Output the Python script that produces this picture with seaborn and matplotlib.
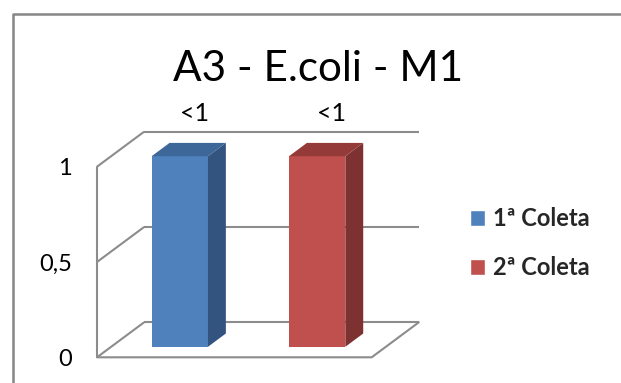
import matplotlib
matplotlib.use("Agg")
import matplotlib.pyplot as plt
import matplotlib.transforms as mtransforms
from matplotlib.patches import Polygon
from matplotlib.lines import Line2D
import seaborn as sns
import pandas as pd

# Data
coletas = ["1ª Coleta", "2ª Coleta"]
valores = [1, 1]
rotulos = ["<1", "<1"]
y_ticks = [0, 0.5, 1]
y_tick_labels = ["0", "0,5", "1"]
titulo = "A3 - E.coli - M1"

# Colours: front face, side face, top face
face_cores = ["#4F81BD", "#C0504D"]
lado_cores = ["#33547F", "#7D3130"]
topo_cores = ["#3D6699", "#943B39"]
grade_cor = "#8C8C8C"

W, H, DPI = 621, 383, 100
sns.set_theme(style="white")
plt.rcParams["font.family"] = ["Lato", "DejaVu Sans"]

fig = plt.figure(figsize=(W / DPI, H / DPI), dpi=DPI)
fig.patch.set_facecolor("white")
ax = fig.add_axes([97 / W, (H - 357.3) / H, 274.7 / W, 190.6 / H])
ax.set_facecolor("none")

# Oblique projection: full depth of the box, in data units
DX, DY = 0.343, 0.1836
BAR_START = 0.30   # depth where the bar front faces sit
BAR_DEPTH = 0.38   # depth thickness of each bar
XMIN, XMAX = -0.5, 1.5

# Walls and floor of the 3D box
for y in y_ticks:
    # diagonal on the left wall
    ax.plot([XMIN, XMIN + DX], [y, y + DY], color=grade_cor, lw=1.5,
            zorder=1, clip_on=False, solid_capstyle="butt")
    # horizontal line on the back wall
    ax.plot([XMIN + DX, XMAX + DX], [y + DY, y + DY], color=grade_cor, lw=1.5,
            zorder=1, clip_on=False, solid_capstyle="butt")
ax.plot([XMIN, XMIN], [0, 1], color=grade_cor, lw=1.5, zorder=1, clip_on=False)
ax.plot([XMIN, XMAX, XMAX + DX], [0, 0, DY], color=grade_cor, lw=1.5,
        zorder=1, clip_on=False)

# Bars (front faces)
df = pd.DataFrame({"coleta": coletas, "valor": valores})
sns.barplot(data=df, x="coleta", y="valor", hue="coleta", palette=face_cores,
            width=0.41, saturation=1, ax=ax, legend=True, zorder=3)

shift = mtransforms.Affine2D().translate(BAR_START * DX, BAR_START * DY)
bars = sorted([p for p in ax.patches if p.get_height() > 0], key=lambda p: p.get_x())
for i, p in enumerate(bars):
    p.set_transform(shift + ax.transData)
    p.set_edgecolor("none")
    p.set_zorder(4)
    p.set_clip_on(False)
    x0 = p.get_x() + BAR_START * DX
    y0 = BAR_START * DY
    w, h = p.get_width(), p.get_height()
    bx, by = BAR_DEPTH * DX, BAR_DEPTH * DY
    side = Polygon([(x0 + w, y0), (x0 + w + bx, y0 + by),
                    (x0 + w + bx, y0 + h + by), (x0 + w, y0 + h)],
                   closed=True, facecolor=lado_cores[i], edgecolor="none",
                   zorder=4, clip_on=False)
    top = Polygon([(x0, y0 + h), (x0 + w, y0 + h),
                   (x0 + w + bx, y0 + h + by), (x0 + bx, y0 + h + by)],
                  closed=True, facecolor=topo_cores[i], edgecolor="none",
                  zorder=4, clip_on=False)
    ax.add_patch(side)
    ax.add_patch(top)
    # value label above the bar
    ax.text(p.get_x() + w / 2 + 0.21, h + 0.24, rotulos[i], ha="center",
            va="baseline", fontsize=18, color="black", clip_on=False)

ax.set_xlim(XMIN, XMAX)
ax.set_ylim(0, 1)
ax.set_xticks([])
ax.set_xlabel("")
ax.set_ylabel("")
ax.set_yticks(y_ticks)
ax.set_yticklabels(y_tick_labels, fontsize=17)
ax.tick_params(axis="y", length=0, pad=18, colors="black")
for s in ax.spines.values():
    s.set_visible(False)

# Legend to the right of the box
handles, labels = ax.get_legend_handles_labels()
ax.legend(handles, labels, loc="center left",
          bbox_to_anchor=(470 / W, 1 - 243.25 / H), bbox_transform=fig.transFigure,
          frameon=False, handlelength=0.635, handleheight=0.635,
          handletextpad=0.34, labelspacing=1.09, borderpad=0, borderaxespad=0,
          prop={"family": ["Lato", "DejaVu Sans"], "weight": "bold", "size": 17})

# Title
fig.text(318 / W, 1 - 81 / H, titulo, ha="center", va="baseline",
         fontsize=30.4, color="black")

# Chart-area border
fig.add_artist(Line2D([13 / W, 13 / W, 1.05], [-0.05, 1 - 13.5 / H, 1 - 13.5 / H],
                      transform=fig.transFigure, color="#868686", lw=1.8))

fig.savefig("out.png", dpi=DPI, facecolor="white")
